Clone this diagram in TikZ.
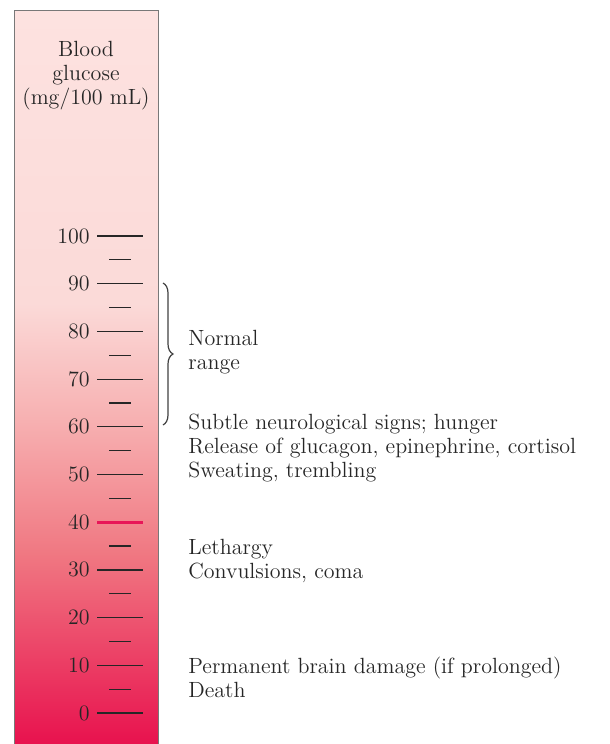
\documentclass[tikz,border=0pt]{standalone}
\usetikzlibrary{decorations.pathreplacing}

\definecolor{glutop}{RGB}{253,226,224}
\definecolor{glumid}{RGB}{251,218,216}
\definecolor{glulow}{RGB}{247,176,177}
\definecolor{gludeep}{RGB}{240,120,130}
\definecolor{glubot}{RGB}{232,18,78}
\definecolor{barline}{RGB}{120,120,120}
\definecolor{alarm}{RGB}{232,22,88}

% 25bp..75bp is the part that is stretched over the bar
\pgfdeclareverticalshading{glucosebar}{100bp}{color(0bp)=(glubot); color(25bp)=(glubot);
  color(38bp)=(gludeep); color(47bp)=(glulow); color(55bp)=(glumid);
  color(75bp)=(glutop); color(100bp)=(glutop)}

\begin{document}
\begin{tikzpicture}[x=0.5pt,y=-0.5pt,
    every node/.style={font=\fontsize{11}{12}\selectfont},
    ticklong/.style={line width=0.6pt,black!85},
    tickshort/.style={line width=0.6pt,black!85},
    level/.style={anchor=east,inner sep=0pt},
    note/.style={anchor=west,align=left,inner sep=0pt,text=black!85}]
  \useasboundingbox (0,0) rectangle (610,744);

  % the bar
  \shade[shading=glucosebar] (14,10) rectangle (158,744);
  \draw[barline,line width=0.5pt] (14,744) -- (14,10) -- (158,10) -- (158,744);

  \node[align=center,inner sep=0pt,text=black!85] (title) at (86,76) {Blood\\glucose\\(mg/100 mL)};

  % scale
  \foreach \v in {0,10,...,100}{
    \pgfmathsetmacro{\yy}{713-4.77*\v}
    \node[level,text=black!85] (L\v) at (90,\yy) {\v};
    \ifnum\v=40\relax
      \draw[alarm,line width=1.7pt] (97,\yy) -- (143,\yy);
    \else
      \draw[ticklong] (97,\yy) -- (143,\yy);
    \fi
  }
  \foreach \v in {5,15,...,95}{
    \pgfmathsetmacro{\yy}{713-4.77*\v}
    \draw[tickshort] (109,\yy) -- (131,\yy);
  }

  % normal range
  \coordinate (btop) at (163,283);
  \coordinate (bbot) at (163,425);
  \draw[black!75,line width=0.6pt,decorate,decoration={brace,amplitude=5pt}] (btop) -- (bbot);
  \node[note] (normal) at (188,352) {Normal\\range};

  \node[note] (signs) at (188,448.5) {Subtle neurological signs; hunger\\Release of glucagon, epinephrine, cortisol\\Sweating, trembling};
  \node[note] (lethargy) at (188,561) {Lethargy\\Convulsions, coma};
  \node[note] (damage) at (188,677) {Permanent brain damage (if prolonged)\\Death};
\end{tikzpicture}
\end{document}
